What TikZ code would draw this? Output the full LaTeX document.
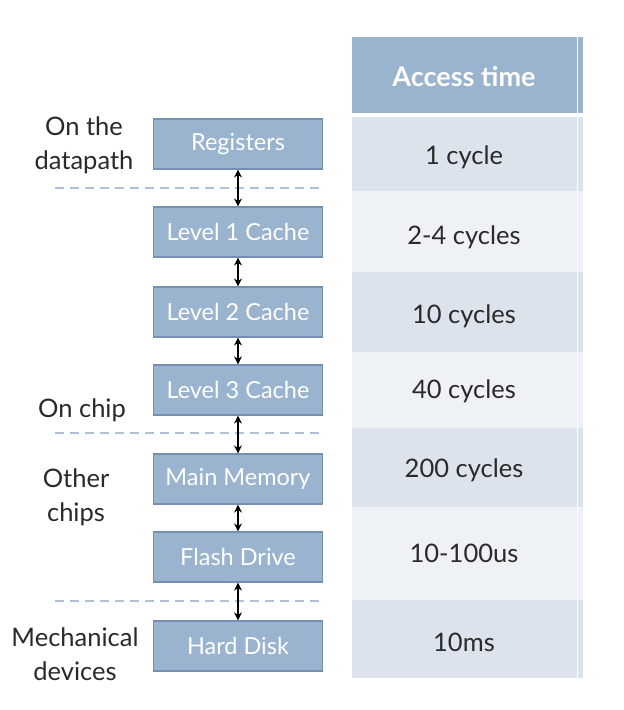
\documentclass[tikz,border=0pt]{standalone}
\usepackage{fontspec}
\setmainfont{Lato}
\usetikzlibrary{arrows.meta}
\definecolor{boxfill}{HTML}{9AB3CF}
\definecolor{boxline}{HTML}{7390B2}
\definecolor{rowa}{HTML}{DDE3EC}
\definecolor{rowb}{HTML}{EEF1F6}
\definecolor{dashc}{HTML}{AFC0D3}
\definecolor{txt}{HTML}{2A2A2A}
\begin{document}
\begin{tikzpicture}[x=1pt,y=-1pt,
  level/.style={draw=boxline,line width=1.2pt,fill=boxfill,text=white,font=\fontsize{23.5}{25}\selectfont,minimum width=169pt,minimum height=50pt,inner sep=0pt},
  cell/.style={text=txt,font=\fontsize{25.5}{27}\selectfont},
  side/.style={text=txt,font=\fontsize{25.5}{34}\selectfont,align=center},
  sep/.style={dashc,line width=1.3pt,dash pattern=on 9pt off 6pt},
  link/.style={{Stealth[length=8pt,width=8pt]}-{Stealth[length=8pt,width=8pt]},line width=1.1pt,black}]
\useasboundingbox (0,0) rectangle (624,710);
\fill[white] (0,0) rectangle (624,710);
% table
\fill[boxfill] (352,37) rectangle (583,113);
\fill[rowa] (352,117) rectangle (583,191);
\fill[rowb] (352,191) rectangle (583,272);
\fill[rowa] (352,272) rectangle (583,352);
\fill[rowb] (352,352) rectangle (583,428);
\fill[rowa] (352,428) rectangle (583,507);
\fill[rowb] (352,507) rectangle (583,600);
\fill[rowa] (352,600) rectangle (583,678);
\draw[white,line width=1pt] (577,37) -- (577,678);
\node[text=white,font=\bfseries\fontsize{27}{29}\selectfont] (hdr) at (464,77) {Access time};
\node[cell] (t1) at (464,157) {1 cycle};
\node[cell] (t2) at (464,237) {2-4 cycles};
\node[cell] (t3) at (464,316) {10 cycles};
\node[cell] (t4) at (464,391) {40 cycles};
\node[cell] (t5) at (464,470) {200 cycles};
\node[cell] (t6) at (464,553) {10-100us};
\node[cell] (t7) at (464,642) {10ms};
% separators
\draw[sep] (55,188) -- (323,188);
\draw[sep] (55,433) -- (323,433);
\draw[sep] (55,601) -- (323,601);
% levels
\node[level] (reg) at (238,144) {Registers};
\node[level] (l1) at (238,232) {Level 1 Cache};
\node[level] (l2) at (238,312) {Level 2 Cache};
\node[level] (l3) at (238,390) {Level 3 Cache};
\node[level] (mm) at (238,479) {Main Memory};
\node[level] (fd) at (238,557) {Flash Drive};
\node[level] (hd) at (238,646) {Hard Disk};
\draw[link] (reg) -- (l1);
\draw[link] (l1) -- (l2);
\draw[link] (l2) -- (l3);
\draw[link] (l3) -- (mm);
\draw[link] (mm) -- (fd);
\draw[link] (fd) -- (hd);
% side labels
\node[side] (s1) at (84,145) {On the\\datapath};
\node[side] (s2) at (82,410) {On chip};
\node[side] (s3) at (76,497) {Other\\chips};
\node[side] (s4) at (75,654) {Mechanical\\devices};
\end{tikzpicture}
\end{document}
